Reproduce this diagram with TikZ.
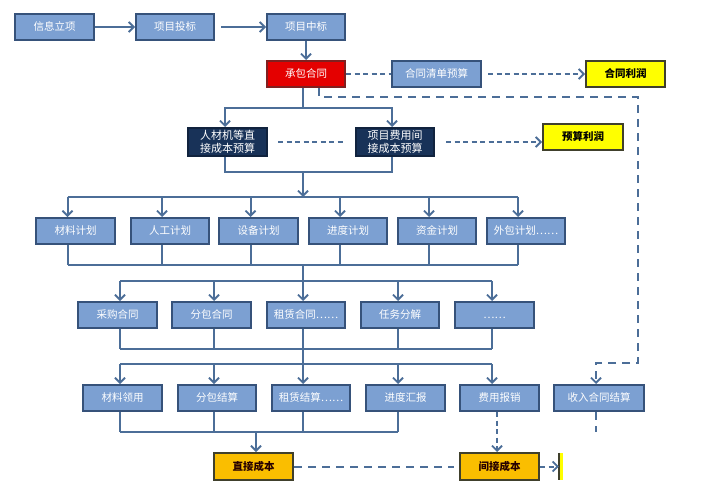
\documentclass[tikz,border=0pt]{standalone}
\usepackage{fontspec}
\setmainfont{Noto Sans CJK SC}
\usetikzlibrary{arrows.meta,calc}
\definecolor{boxblue}{RGB}{124,160,210}
\definecolor{boxborder}{RGB}{54,82,122}
\definecolor{lineblue}{RGB}{76,110,152}
\definecolor{navyfill}{RGB}{24,50,88}
\definecolor{redfill}{RGB}{228,0,0}
\definecolor{redborder}{RGB}{128,32,32}
\definecolor{yellowfill}{RGB}{255,255,0}
\definecolor{orangefill}{RGB}{250,190,0}
\definecolor{darkborder}{RGB}{64,64,44}
\begin{document}
\begin{tikzpicture}[x=1pt,y=-1pt,
  base/.style={draw, line width=2pt, minimum height=26pt, minimum width=78pt, inner sep=0pt,
    text height=8.5pt, text depth=1.5pt, font=\fontsize{10.5}{12}\selectfont},
  bluebox/.style={base, draw=boxborder, fill=boxblue, text=white},
  redbox/.style={base, draw=redborder, fill=redfill, text=white},
  navybox/.style={base, draw=navyfill!70!black, fill=navyfill, text=white, minimum height=28pt,
    text height=, text depth=, align=center, font=\fontsize{11}{12.5}\selectfont},
  yellowbox/.style={base, draw=darkborder, fill=yellowfill, text=black, font=\fontsize{10.5}{12}\selectfont\bfseries},
  orangebox/.style={base, draw=darkborder, fill=orangefill, text=black!85!red, font=\fontsize{10.5}{12}\selectfont\bfseries},
  conn/.style={draw=lineblue, line width=2pt},
  tip/.style={-{Straight Barb[length=5pt,width=10pt,line width=1.8pt]}},
  arr/.style={conn, tip},
  dashshort/.style={draw=lineblue, line width=2pt, dash pattern=on 5pt off 3.5pt},
  dashlong/.style={draw=lineblue, line width=2pt, dash pattern=on 8pt off 6pt},
  dasharr/.style={dashshort, tip},
]
\useasboundingbox (0,0) rectangle (703,492);
\fill[white] (0,0) rectangle (703,492);

% row 1
\node[bluebox, minimum width=79pt] (info) at (54.5,27) {信息立项};
\node[bluebox] (bid) at (175,27) {项目投标};
\node[bluebox] (win) at (306,27) {项目中标};
% contract row
\node[redbox] (contract) at (306,74) {承包合同};
\node[bluebox, minimum width=89pt] (qlist) at (436.5,74) {合同清单预算};
\node[yellowbox, minimum width=79pt] (cprofit) at (625.5,74) {合同利润};
% budgets
\node[navybox, minimum width=79pt] (dbud) at (227.5,142) {人材机等直\\接成本预算};
\node[navybox] (ibud) at (395,142) {项目费用间\\接成本预算};
\node[yellowbox, minimum width=80pt] (bprofit) at (583,137) {预算利润};
% plans
\node[bluebox, minimum width=79pt] (m1) at (75.5,231) {材料计划};
\node[bluebox] (m2) at (170,231) {人工计划};
\node[bluebox, minimum width=79pt] (m3) at (258.5,231) {设备计划};
\node[bluebox] (m4) at (348,231) {进度计划};
\node[bluebox] (m5) at (437,231) {资金计划};
\node[bluebox] (m6) at (526,231) {外包计划……};
% contracts
\node[bluebox, minimum width=79pt] (r1) at (117.5,315) {采购合同};
\node[bluebox, minimum width=79pt] (r2) at (211.5,315) {分包合同};
\node[bluebox] (r3) at (306,315) {租赁合同……};
\node[bluebox] (r4) at (400,315) {任务分解};
\node[bluebox, minimum width=79pt] (r5) at (494.5,315) {……};
% settlements
\node[bluebox, minimum width=79pt] (s1) at (122.5,398) {材料领用};
\node[bluebox] (s2) at (217,398) {分包结算};
\node[bluebox] (s3) at (311,398) {租赁结算……};
\node[bluebox, minimum width=79pt] (s4) at (405.5,398) {进度汇报};
\node[bluebox, minimum width=79pt] (s5) at (499.5,398) {费用报销};
\node[bluebox, minimum width=90pt] (s6) at (599,398) {收入合同结算};
% costs
\node[orangebox, minimum width=79pt, minimum height=27pt] (dcost) at (253.5,466.5) {直接成本};
\node[orangebox, minimum width=79pt, minimum height=27pt] (icost) at (499.5,466.5) {间接成本};
\node[fill=yellowfill, minimum width=4pt, minimum height=27pt, inner sep=0pt] (cut) at (561,466.5) {};
\draw[draw=darkborder, line width=2pt] (cut.north west) -- (cut.south west);

% column coordinates
\coordinate (c1) at (120,0);
\coordinate (c2) at (214,0);
\coordinate (c3) at (303,0);
\coordinate (c4) at (398,0);
\coordinate (c5) at (492,0);
\coordinate (b0) at (303,108);
\coordinate (b1) at (303,172);
\coordinate (b2) at (303,197);
\coordinate (b3) at (303,265);
\coordinate (b4) at (303,281);
\coordinate (b5) at (303,349);
\coordinate (b6) at (303,364);
\coordinate (b7) at (303,432);
\coordinate (rt) at (638,97);
\coordinate (rb) at (638,363);
\coordinate (s6end) at (596,432);

% row 1 arrows
\draw[arr] (info) -- (bid);
\draw[arr, shorten <=6pt] (bid) -- (win);
\draw[arr] (win) -- (contract);
% contract branches
\draw[dashshort] (contract) -- (qlist);
\draw[dasharr, shorten <=6pt] (qlist) -- (cprofit);
\draw[conn] (contract.south -| b0) -- (b0);
\draw[arr] (b0) -| ([xshift=-2.5pt]dbud.north);
\draw[arr] (b0) -| ([xshift=-3pt]ibud.north);
\draw[dashshort, shorten <=10pt, shorten >=11pt] (dbud) -- (ibud);
\draw[dasharr, shorten <=11pt] (ibud.east) -- (bprofit.west |- ibud.east);
% budgets to plans
\draw[conn] ([xshift=-2.5pt]dbud.south) |- (b1) -| ([xshift=-3pt]ibud.south);
\draw[arr] (b1) -- (b2);
\foreach \n in {m1,m2,m3,m4,m5,m6} {
  \coordinate (\n-t) at ([xshift=-8pt]\n.north);
  \coordinate (\n-b) at ([xshift=-8pt]\n.south);
}
\draw[conn] (m1-t |- b2) -- (m6-t |- b2);
\foreach \n in {m1,m2,m3,m4,m5,m6} {
  \draw[arr] (\n-t |- b2) -- (\n-t);
  \draw[conn] (\n-b) -- (\n-b |- b3);
}
\draw[conn] (m1-b |- b3) -- (m6-b |- b3);
\draw[conn] (b3) -- (b4);
% plans to contracts
\draw[conn] (c1 |- b4) -- (c5 |- b4);
\draw[arr] (c1 |- b4) -- (c1 |- r1.north);
\draw[arr] (c2 |- b4) -- (c2 |- r2.north);
\draw[arr] (c3 |- b4) -- (c3 |- r3.north);
\draw[arr] (c4 |- b4) -- (c4 |- r4.north);
\draw[arr] (c5 |- b4) -- (c5 |- r5.north);
% contracts to settlements
\draw[conn] (c1 |- r1.south) -- (c1 |- b5);
\draw[conn] (c2 |- r2.south) -- (c2 |- b5);
\draw[conn] (c4 |- r4.south) -- (c4 |- b5);
\draw[conn] (c5 |- r5.south) -- (c5 |- b5);
\draw[conn] (c1 |- b5) -- (c5 |- b5);
\draw[conn] (c3 |- r3.south) -- (b6);
\draw[conn] (c1 |- b6) -- (c5 |- b6);
\draw[arr] (c1 |- b6) -- (c1 |- s1.north);
\draw[arr] (c2 |- b6) -- (c2 |- s2.north);
\draw[arr] (c3 |- b6) -- (c3 |- s3.north);
\draw[arr] (c4 |- b6) -- (c4 |- s4.north);
\draw[arr] (c5 |- b6) -- (c5 |- s5.north);
% settlements to direct cost
\draw[conn] (c1 |- s1.south) -- (c1 |- b7);
\draw[conn] (c2 |- s2.south) -- (c2 |- b7);
\draw[conn] (c3 |- s3.south) -- (c3 |- b7);
\draw[conn] (c4 |- s4.south) -- (c4 |- b7);
\draw[conn] (c1 |- b7) -- (c4 |- b7);
\draw[arr] ([xshift=2.5pt]dcost.north |- b7) -- ([xshift=2.5pt]dcost.north);
% indirect cost
\draw[dasharr] ([xshift=-2.5pt]s5.south) -- ([xshift=-2.5pt]icost.north);
\draw[dashlong, shorten >=5pt] (dcost) -- (icost);
\draw[dasharr] (icost) -- (cut.west);
% long dashed route to income settlement
\draw[dashlong, tip]
  ([xshift=13pt]contract.south) |- (rt) -- (rb) -| ([xshift=-3pt]s6.north);
\draw[dashlong] ([xshift=-3pt]s6.south) -- (s6end);
\end{tikzpicture}
\end{document}
